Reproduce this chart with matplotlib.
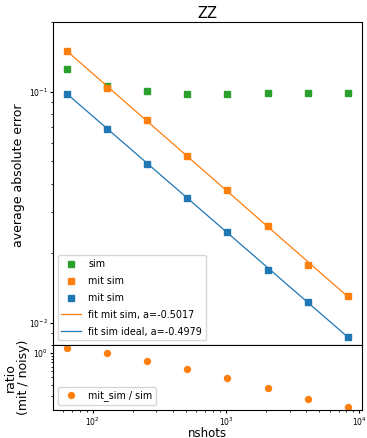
from matplotlib import pyplot as plt
import numpy as np

nshots = np.array([64, 128, 256, 512, 1024, 2048, 4096, 8192])
err_sim = np.array([0.1254, 0.1055, 0.1003, 0.0974, 0.0974, 0.0983, 0.0983, 0.0983])
err_mit_sim = np.array([0.149, 0.104, 0.0754, 0.0528, 0.0377, 0.0263, 0.0178, 0.0131])
err_sim_ideal = np.array([0.098, 0.0690, 0.0488, 0.0348, 0.0248, 0.0170, 0.0123, 0.00872])
a_mit = -0.5017
a_ideal = -0.4979

fig, (ax, ax2) = plt.subplots(2, 1, sharex=True, figsize=(3.67, 4.38), dpi=100,
                              gridspec_kw={'height_ratios': [5, 1]})
fig.subplots_adjust(left=0.144, right=0.986, top=0.95, bottom=0.064, hspace=0)

ax.plot(nshots, err_sim, 's', color='C2', markersize=4.3, label='sim')
ax.plot(nshots, err_mit_sim, 's', color='C1', markersize=4.3, label='mit sim')
ax.plot(nshots, err_sim_ideal, 's', color='C0', markersize=4.3, label='mit sim')

# power law fits in log-log space
p_mit = np.polyfit(np.log(nshots), np.log(err_mit_sim), 1)
p_ideal = np.polyfit(np.log(nshots), np.log(err_sim_ideal), 1)
ax.plot(nshots, np.exp(np.polyval(p_mit, np.log(nshots))), color='C1', linewidth=0.9,
        label='fit mit sim, a=%.4f' % a_mit)
ax.plot(nshots, np.exp(np.polyval(p_ideal, np.log(nshots))), color='C0', linewidth=0.9,
        label='fit sim ideal, a=%.4f' % a_ideal)

ax.set_xscale('log')
ax.set_yscale('log')
ax.set_ylim(0.008, 0.2)
ax.set_title('ZZ', fontsize=10.5, pad=3)
ax.set_ylabel('average absolute error', fontsize=9, labelpad=2)
ax.yaxis.set_label_coords(-0.09, 0.526)
ax.tick_params(which='major', labelsize=5.5, length=2.2, pad=1.5)
ax.tick_params(which='minor', length=1.3)
ax.legend(loc='lower left', fontsize=6.9, labelspacing=0.72)

ax2.plot(nshots, err_mit_sim / err_sim, 'o', color='C1', markersize=4.3,
         label='mit_sim / sim')
ax2.set_yscale('log')
ax2.set_xlabel('nshots', fontsize=8.5)
ax2.xaxis.set_label_coords(0.5, -0.265)
ax2.set_ylabel('ratio\n(mit / noisy)', fontsize=9, labelpad=2, linespacing=1.0)
ax2.tick_params(which='major', labelsize=5.5, length=2.2, pad=1.5)
ax2.tick_params(which='minor', length=1.3)
ax2.legend(loc='lower left', fontsize=6.9)

plt.savefig('out.png')
